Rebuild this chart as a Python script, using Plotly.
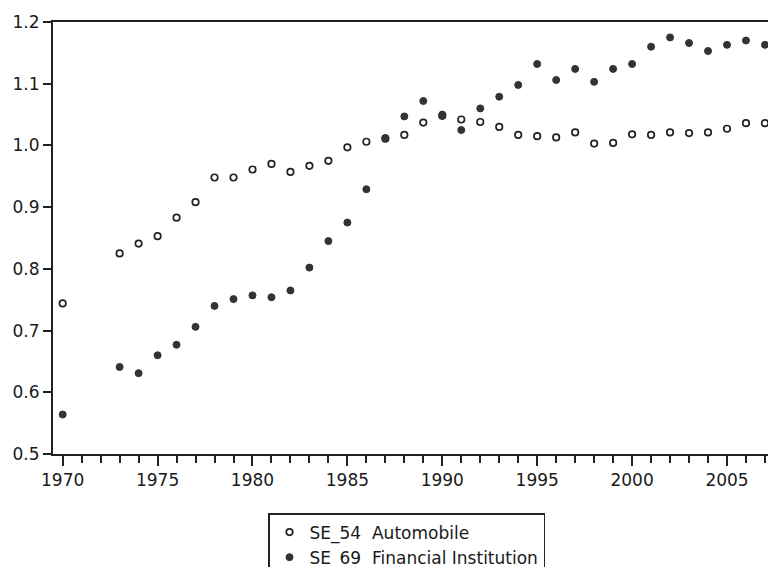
import plotly.graph_objects as go

years_auto = [1970, 1973, 1974, 1975, 1976, 1977, 1978, 1979, 1980, 1981, 1982, 1983, 1984,
              1985, 1986, 1987, 1988, 1989, 1990, 1991, 1992, 1993, 1994, 1995, 1996, 1997,
              1998, 1999, 2000, 2001, 2002, 2003, 2004, 2005, 2006, 2007]
se54_automobile = [0.744, 0.825, 0.841, 0.853, 0.883, 0.908, 0.948, 0.948, 0.961, 0.970, 0.957,
                   0.967, 0.975, 0.997, 1.006, 1.011, 1.017, 1.037, 1.048, 1.042, 1.038, 1.030,
                   1.017, 1.015, 1.013, 1.021, 1.003, 1.004, 1.018, 1.017, 1.021, 1.020, 1.021,
                   1.027, 1.036, 1.036]

years_fin = years_auto
se69_financial = [0.564, 0.641, 0.631, 0.660, 0.677, 0.706, 0.740, 0.751, 0.757, 0.754, 0.765,
                  0.802, 0.845, 0.875, 0.929, 1.012, 1.047, 1.072, 1.050, 1.025, 1.060, 1.079,
                  1.098, 1.132, 1.106, 1.124, 1.103, 1.124, 1.132, 1.160, 1.175, 1.166, 1.153,
                  1.163, 1.170, 1.163]

names = ["SE_54\u00a0 Automobile", "SE_69\u00a0 Financial Institution"]

fig = go.Figure()
fig.add_trace(go.Scatter(
    x=years_auto, y=se54_automobile, mode="markers", name=names[0],
    marker=dict(symbol="circle", size=6.5, color="white",
                line=dict(color="#222222", width=1.7)),
    cliponaxis=False,
))
fig.add_trace(go.Scatter(
    x=years_fin, y=se69_financial, mode="markers", name=names[1],
    marker=dict(symbol="circle", size=7, color="#333333",
                line=dict(color="#333333", width=1)),
    cliponaxis=False,
))

font_family = "DejaVu Sans, Arial, sans-serif"

fig.update_layout(
    width=768, height=567,
    margin=dict(l=53, r=0, t=22, b=113, autoexpand=False),
    paper_bgcolor="white", plot_bgcolor="white",
    font=dict(family=font_family, size=17, color="#1a1a1a"),
    showlegend=True,
    legend=dict(
        x=0.3007, y=-0.1366, xanchor="left", yanchor="top",
        bordercolor="#222222", borderwidth=1.5, bgcolor="white",
        font=dict(family=font_family, size=17, color="#1a1a1a"),
        tracegroupgap=0,
    ),
    xaxis=dict(
        range=[1969.49, 2007.16], showgrid=False, zeroline=False,
        showline=True, linecolor="#222222", linewidth=2, mirror=True,
        ticks="outside", ticklen=10, tickwidth=1.5, tickcolor="#222222",
        tick0=1970, dtick=5, tickformat="d",
        minor=dict(dtick=1, tick0=1970, ticks="outside", ticklen=7,
                   tickwidth=1.5, tickcolor="#222222", showgrid=False),
        tickfont=dict(size=17),
    ),
    yaxis=dict(
        range=[0.5, 1.2], showgrid=False, zeroline=False,
        showline=True, linecolor="#222222", linewidth=2,
        ticks="outside", ticklen=8, tickwidth=1.5, tickcolor="#222222",
        tick0=0.5, dtick=0.1, tickformat=".1f",
        tickfont=dict(size=17),
    ),
)

# remove the default 8px page margin so the figure fills the 768x567 window
fig.write_html(
    "out.html",
    config={"displayModeBar": False},
    post_script="document.body.style.margin='0';document.body.style.overflow='hidden';",
)
